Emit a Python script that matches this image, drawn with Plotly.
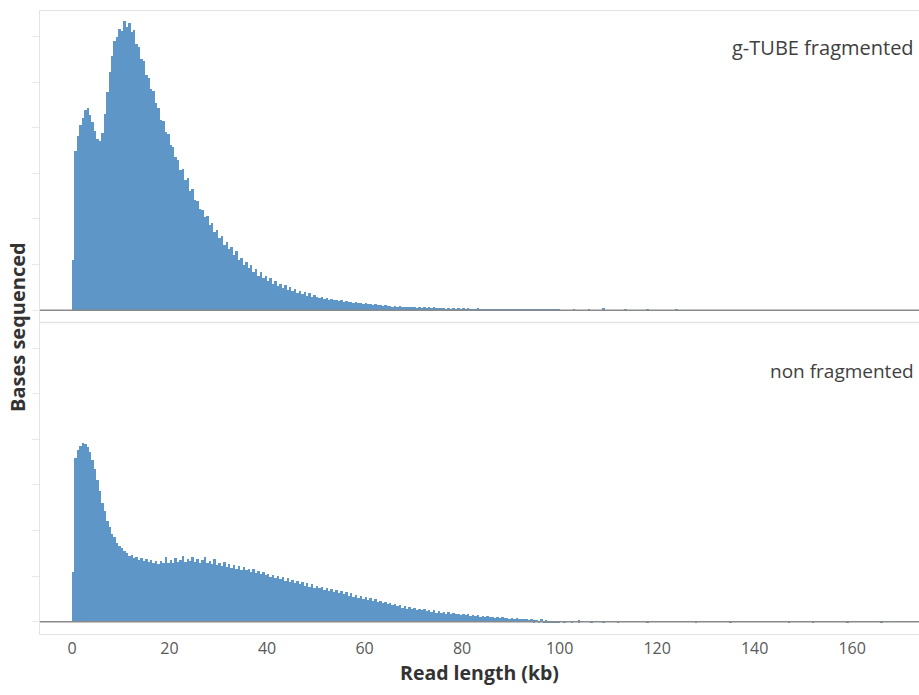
import plotly.graph_objects as go
from plotly.subplots import make_subplots

BIN_WIDTH_KB = 0.5  # histogram bin width (kb)

# Bases sequenced per 0.5 kb bin, 0-100 kb (arbitrary units, one unit = one faint y tick)
gtube_values = [
    1.10, 3.50, 3.82, 4.05, 4.22, 4.38, 4.43, 4.28, 4.12, 3.92,
    3.76, 3.70, 3.88, 4.30, 4.78, 5.22, 5.58, 5.90, 5.98, 6.16,
    6.12, 6.34, 6.22, 6.30, 6.10, 6.14, 5.84, 5.78, 5.50, 5.46,
    5.16, 5.10, 4.86, 4.80, 4.54, 4.44, 4.18, 4.14, 3.90, 3.86,
    3.62, 3.58, 3.36, 3.30, 3.08, 3.10, 2.86, 2.90, 2.62, 2.66,
    2.42, 2.40, 2.22, 2.20, 2.04, 2.06, 1.86, 1.92, 1.72, 1.76,
    1.58, 1.62, 1.44, 1.50, 1.34, 1.38, 1.22, 1.30, 1.10, 1.14,
    1.00, 1.06, 0.92, 0.98, 0.84, 0.90, 0.76, 0.84, 0.70, 0.74,
    0.64, 0.70, 0.58, 0.65, 0.54, 0.58, 0.49, 0.56, 0.45, 0.50,
    0.42, 0.47, 0.37, 0.43, 0.35, 0.40, 0.32, 0.37, 0.30, 0.33,
    0.30, 0.27, 0.28, 0.25, 0.27, 0.23, 0.25, 0.22, 0.23, 0.20,
    0.22, 0.19, 0.20, 0.18, 0.19, 0.16, 0.18, 0.15, 0.16, 0.14,
    0.15, 0.13, 0.14, 0.12, 0.13, 0.11, 0.12, 0.10, 0.11, 0.09,
    0.10, 0.08, 0.10, 0.08, 0.09, 0.07, 0.08, 0.07, 0.08, 0.06,
    0.07, 0.05, 0.07, 0.05, 0.06, 0.05, 0.06, 0.04, 0.06, 0.04,
    0.05, 0.04, 0.05, 0.03, 0.05, 0.03, 0.04, 0.03, 0.04, 0.03,
    0.04, 0.02, 0.04, 0.03, 0.03, 0.02, 0.04, 0.02, 0.03, 0.02,
    0.03, 0.02, 0.03, 0.02, 0.03, 0.01, 0.03, 0.02, 0.02, 0.01,
    0.02, 0.01, 0.03, 0.01, 0.02, 0.01, 0.02, 0.01, 0.02, 0.01,
    0.02, 0.01, 0.01, 0.02, 0.01, 0.01, 0.02, 0.01, 0.01, 0.01,
]
gtube_tail_kb = [103.0, 106.0, 109.0, 113.5, 118.0, 124.0]
gtube_tail_values = [0.02, 0.015, 0.05, 0.01, 0.02, 0.01]

nonfrag_values = [
    1.10, 3.60, 3.78, 3.86, 3.92, 3.90, 3.84, 3.74, 3.56, 3.36,
    3.12, 2.88, 2.62, 2.44, 2.22, 2.08, 1.94, 1.86, 1.74, 1.68,
    1.62, 1.56, 1.52, 1.46, 1.48, 1.40, 1.44, 1.36, 1.40, 1.34,
    1.38, 1.31, 1.36, 1.30, 1.34, 1.28, 1.35, 1.30, 1.42, 1.29,
    1.36, 1.30, 1.40, 1.32, 1.37, 1.45, 1.31, 1.38, 1.34, 1.42,
    1.33, 1.39, 1.30, 1.36, 1.44, 1.29, 1.35, 1.27, 1.38, 1.26,
    1.30, 1.24, 1.33, 1.22, 1.27, 1.19, 1.25, 1.17, 1.24, 1.15,
    1.20, 1.14, 1.17, 1.10, 1.16, 1.08, 1.12, 1.05, 1.10, 1.03,
    1.06, 0.99, 1.04, 0.96, 1.01, 0.94, 0.98, 0.91, 0.96, 0.89,
    0.93, 0.86, 0.90, 0.83, 0.88, 0.80, 0.85, 0.78, 0.83, 0.76,
    0.80, 0.74, 0.78, 0.71, 0.76, 0.69, 0.73, 0.66, 0.71, 0.64,
    0.68, 0.61, 0.66, 0.58, 0.63, 0.56, 0.60, 0.53, 0.58, 0.51,
    0.55, 0.49, 0.53, 0.46, 0.50, 0.44, 0.47, 0.41, 0.45, 0.39,
    0.42, 0.37, 0.40, 0.35, 0.38, 0.32, 0.36, 0.30, 0.34, 0.29,
    0.32, 0.27, 0.30, 0.26, 0.29, 0.24, 0.27, 0.23, 0.26, 0.21,
    0.24, 0.20, 0.23, 0.19, 0.22, 0.18, 0.20, 0.17, 0.19, 0.16,
    0.18, 0.15, 0.17, 0.14, 0.16, 0.13, 0.15, 0.12, 0.14, 0.12,
    0.13, 0.11, 0.12, 0.10, 0.12, 0.09, 0.11, 0.09, 0.10, 0.08,
    0.09, 0.07, 0.09, 0.06, 0.08, 0.06, 0.07, 0.05, 0.06, 0.04,
    0.05, 0.03, 0.06, 0.03, 0.04, 0.02, 0.03, 0.02, 0.03, 0.02,
]
nonfrag_tail_kb = [101.0, 102.5, 104.0, 106.5, 109.0, 112.0, 118.0, 128.0, 135.0, 147.0, 152.0, 159.0, 166.0]
nonfrag_tail_values = [0.02, 0.02, 0.04, 0.02, 0.02, 0.02, 0.02, 0.02, 0.015, 0.02, 0.02, 0.015, 0.02]

x_ticks = [0, 20, 40, 60, 80, 100, 120, 140, 160]
y_ticks = [0, 1, 2, 3, 4, 5, 6]
panel_labels = ["g-TUBE fragmented", "non fragmented"]

BAR_COLOR = "#5f96c8"
X_RANGE = [-6.56, 173.7]
Y_RANGE = [-0.27, 6.56]
FONT = "Open Sans, Noto Sans, sans-serif"


def centers(n):
    return [BIN_WIDTH_KB * i + BIN_WIDTH_KB / 2 for i in range(n)]


fig = make_subplots(rows=2, cols=1, shared_xaxes=True, vertical_spacing=0)

for row, (vals, tail_kb, tail_vals) in enumerate(
    [(gtube_values, gtube_tail_kb, gtube_tail_values),
     (nonfrag_values, nonfrag_tail_kb, nonfrag_tail_values)], start=1):
    xs = centers(len(vals)) + tail_kb
    ys = vals + tail_vals
    fig.add_trace(
        go.Bar(x=xs, y=ys, width=BIN_WIDTH_KB, marker=dict(color=BAR_COLOR, line=dict(width=0)),
               showlegend=False, hoverinfo="x+y"),
        row=row, col=1,
    )

fig.update_layout(
    width=919, height=695,
    margin=dict(l=40, r=0, t=11, b=61),
    paper_bgcolor="white", plot_bgcolor="white",
    bargap=0,
    font=dict(family=FONT, color="#404040"),
)

for r in (1, 2):
    fig.update_yaxes(range=Y_RANGE, tickvals=y_ticks, showticklabels=False,
                     ticks="outside", ticklen=7, tickcolor="#e8e8e8",
                     showgrid=False, zeroline=False,
                     showline=True, linecolor="#e3e3e3", linewidth=1,
                     row=r, col=1)
    fig.update_xaxes(range=X_RANGE, tickvals=x_ticks, showgrid=False, zeroline=False,
                     showline=True, linecolor="#e3e3e3", linewidth=1, mirror=False,
                     row=r, col=1)

fig.update_xaxes(showticklabels=False, ticks="", side="top", row=1, col=1)
fig.update_xaxes(ticks="", tickfont=dict(size=16, color="#595959"),
                 title=dict(text="<b>Read length (kb)</b>", font=dict(size=19.5, color="#333333"), standoff=6),
                 row=2, col=1)

# baselines at zero
for yref in ("y", "y2"):
    fig.add_shape(type="line", xref="paper", yref=yref, x0=0, x1=1, y0=0, y1=0,
                  line=dict(color="#8a8a8a", width=1.5), layer="above")

# divider between panels
fig.add_shape(type="line", xref="paper", yref="paper", x0=0, x1=1, y0=0.5, y1=0.5,
              line=dict(color="#e3e3e3", width=1.5))

fig.add_annotation(text=panel_labels[0], xref="paper", yref="y", x=0.9966, y=5.75,
                   xanchor="right", yanchor="middle", showarrow=False,
                   font=dict(size=20, color="#404040"))
fig.add_annotation(text=panel_labels[1], xref="paper", yref="y2", x=0.9966, y=5.5,
                   xanchor="right", yanchor="middle", showarrow=False,
                   font=dict(size=19, color="#404040"))

fig.add_annotation(text="<b>Bases sequenced</b>", xref="paper", yref="paper",
                   x=(17 - 40) / 879, y=(634 - 327) / 623, xanchor="center", yanchor="middle",
                   textangle=-90, showarrow=False, font=dict(size=20, color="#333333"))

fig.write_html("out.html", config={"displayModeBar": False},
               post_script="document.body.style.margin='0';")
